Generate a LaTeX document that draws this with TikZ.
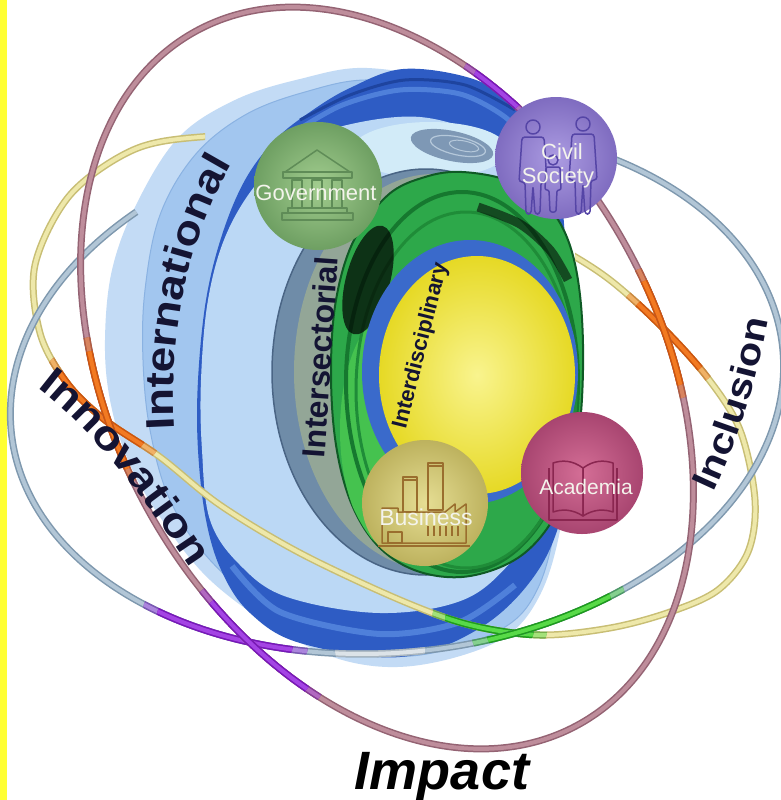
\documentclass[tikz,border=0pt]{standalone}
\usepackage{fontspec}
\setmainfont{Liberation Sans}
\newfontfamily\lblfont{Liberation Sans}[FakeStretch=1.15]
\usetikzlibrary{decorations.text}
\definecolor{strip}{HTML}{FFFF33}
\definecolor{halo}{HTML}{C3DBF5}
\definecolor{band}{HTML}{A2C6EF}
\definecolor{bandedge}{HTML}{8AB2E2}
\definecolor{rimdark}{HTML}{2E5CC4}
\definecolor{rimlight}{HTML}{4F80DA}
\definecolor{rimdeep}{HTML}{1E449F}
\definecolor{innerblue}{HTML}{BBD8F5}
\definecolor{cyanpale}{HTML}{D2EBF8}
\definecolor{swirl}{HTML}{7E98B5}
\definecolor{swirlhi}{HTML}{B5C8DA}
\definecolor{greyband}{HTML}{6F8CA8}
\definecolor{greyband2}{HTML}{93A697}
\definecolor{greyedge}{HTML}{4A6585}
\definecolor{gring}{HTML}{2DA84A}
\definecolor{gedge}{HTML}{0F5A25}
\definecolor{glight}{HTML}{45C24F}
\definecolor{gdark}{HTML}{16782F}
\definecolor{gdark2}{HTML}{1F8C38}
\definecolor{bluering}{HTML}{3A6ACB}
\definecolor{yin}{HTML}{F9F48E}
\definecolor{yout}{HTML}{E6D925}
\definecolor{navy}{HTML}{141433}
\definecolor{mauveD}{HTML}{946373}
\definecolor{mauveL}{HTML}{BE8D9B}
\definecolor{steelD}{HTML}{7E98AE}
\definecolor{steelL}{HTML}{B2C6D6}
\definecolor{ringyD}{HTML}{C8BE74}
\definecolor{ringyL}{HTML}{EEE8AA}
\definecolor{orD}{HTML}{CC5510}
\definecolor{orL}{HTML}{F27A22}
\definecolor{puD}{HTML}{7818B8}
\definecolor{puL}{HTML}{A444E4}
\definecolor{grD}{HTML}{1E9A1E}
\definecolor{grL}{HTML}{58DA48}
\definecolor{whD}{HTML}{A9B6C0}
\definecolor{whL}{HTML}{DCE3E8}
\definecolor{govL}{HTML}{A2CD8F}
\definecolor{govD}{HTML}{6E9F62}
\definecolor{govI}{HTML}{5F8C57}
\definecolor{civL}{HTML}{AC9CE2}
\definecolor{civD}{HTML}{7F6CC0}
\definecolor{civI}{HTML}{5545A6}
\definecolor{acaL}{HTML}{D46E96}
\definecolor{acaD}{HTML}{A84570}
\definecolor{acaI}{HTML}{8A2650}
\definecolor{busL}{HTML}{E6DE94}
\definecolor{busD}{HTML}{BDB25E}
\definecolor{busI}{HTML}{9A6E2E}
\definecolor{sphtext}{HTML}{F4F4EC}
\newcommand\fIntl{\lblfont\bfseries\fontsize{40}{42}\selectfont}
\newcommand\fInno{\lblfont\bfseries\fontsize{41}{43}\selectfont}
\newcommand\fIncl{\lblfont\bfseries\fontsize{36}{38}\selectfont}
\newcommand\MauveRing[1]{\draw[#1,rotate around={29:(387,-378)}] (387,-378) ellipse (273 and 396);}
\newcommand\SteelRing[1]{\begin{scope}[shift={(397,-390)},rotate=6.5]\draw[#1] (128:388 and 262) arc[start angle=128,end angle=420,x radius=388,y radius=262];\end{scope}}
\newcommand\YellowRing[1]{\draw[#1] plot[smooth cycle,tension=0.55] coordinates {(200,-137) (133,-150) (70,-195) (35,-265) (40,-333) (67,-383) (105,-420) (160,-457) (220,-505) (300,-553) (400,-600) (470,-625) (540,-635) (610,-628) (670,-612) (718,-590) (748,-552) (755,-500) (740,-430) (707,-377) (660,-325) (610,-280) (560,-248) (480,-205) (380,-160) (290,-137)};}
\newcommand\GreenShape[1]{#1 plot[smooth cycle,tension=0.6] coordinates {(462,-172) (510,-181) (545,-203) (568,-240) (580,-295) (583,-370) (577,-445) (558,-510) (522,-555) (470,-576) (420,-572) (380,-548) (352,-505) (336,-445) (331,-372) (336,-300) (354,-240) (388,-195) (425,-177)};}
\newcommand\HiZone[5]{\begin{scope}\clip #1 circle (#2);#3{#4,line width=7}#3{#5,line width=4}\end{scope}}
\tikzset{
  spheretext/.style={text=sphtext,font=\fontsize{22}{22}\selectfont,inner sep=0pt},
  icon/.style={draw=#1,line width=1.5,line join=round}
}
\begin{document}
\begin{tikzpicture}[x=1pt,y=1pt]
\useasboundingbox (0,0) rectangle (780,-800);
\fill[white] (0,0) rectangle (780,-800);
\fill[strip] (0,0) rectangle (7,-800);
% outer shell
\fill[halo] plot[smooth cycle,tension=0.6] coordinates {(367,-68) (300,-79) (235,-100) (178,-138) (136,-205) (112,-270) (105,-340) (110,-400) (128,-460) (160,-517) (210,-580) (283,-633) (350,-662) (420,-665) (500,-640) (540,-595) (562,-520) (572,-420) (570,-300) (552,-200) (515,-130) (450,-85)};
\filldraw[fill=band,draw=bandedge,line width=1] plot[smooth cycle,tension=0.6] coordinates {(370,-80) (305,-92) (245,-115) (195,-155) (160,-215) (145,-290) (143,-360) (150,-430) (170,-500) (210,-560) (280,-620) (350,-650) (420,-655) (500,-630) (538,-588) (558,-510) (566,-420) (563,-300) (546,-210) (510,-135) (450,-95)};
% dark rim
\fill[rimdark] plot[smooth cycle,tension=0.6] coordinates {(403,-69) (470,-78) (512,-102) (545,-140) (560,-190) (566,-250) (572,-330) (574,-420) (563,-510) (535,-575) (480,-628) (400,-657) (300,-643) (250,-613) (222,-572) (206,-520) (198,-450) (198,-380) (206,-300) (222,-235) (245,-180) (275,-140) (310,-112) (350,-88)};
\draw[rimlight,line width=5] plot[smooth] coordinates {(285,-138) (340,-106) (400,-90) (460,-94) (505,-117) (535,-150)};
\draw[rimdeep,line width=3] plot[smooth] coordinates {(300,-120) (350,-95) (405,-80) (465,-85) (515,-110)};
\draw[rimlight,line width=6] plot[smooth] coordinates {(232,-566) (280,-612) (380,-634) (460,-622) (515,-585)};
\fill[innerblue] plot[smooth cycle,tension=0.6] coordinates {(420,-117) (487,-137) (530,-170) (553,-230) (563,-320) (566,-420) (553,-505) (513,-560) (463,-600) (380,-613) (287,-597) (240,-565) (210,-520) (202,-450) (201,-380) (208,-300) (226,-235) (258,-182) (300,-145) (347,-125)};
\fill[cyanpale] (430,-150) ellipse (78 and 28);
\fill[swirl,rotate around={-12:(452,-146)}] (452,-146) ellipse (42 and 15);
\draw[swirlhi,line width=1.2,rotate around={-12:(458,-146)}] (458,-146) ellipse (28 and 9);
\draw[swirlhi,line width=1,rotate around={-12:(464,-146)}] (464,-146) ellipse (15 and 5);
% intersectorial cylinder
\filldraw[fill=greyband,draw=greyedge,line width=1.5] (426,-372) ellipse (154 and 203);
\fill[greyband2] (434,-372) ellipse (140 and 198);
\GreenShape{\filldraw[fill=gring,draw=gedge,line width=2]}
\begin{scope}
\GreenShape{\clip}
\fill[glight] (395,-430) ellipse (55 and 120);
\draw[gdark,line width=4] (462,-382) ellipse (116 and 190);
\draw[gdark2,line width=3] (466,-390) ellipse (110 and 178);
\fill[black,opacity=0.7,rotate around={-15:(368,-280)}] (368,-280) ellipse (22 and 56);
\draw[black,opacity=0.55,line width=9] plot[smooth] coordinates {(478,-207) (520,-224) (550,-250) (568,-280)};
\end{scope}
\fill[bluering] (470,-372) ellipse (108 and 132);
\shade[inner color=yin,outer color=yout] (477,-375) ellipse (98 and 119);
\node[rotate=86,font=\fontsize{32}{32}\selectfont\bfseries,text=navy,inner sep=0pt] (inters) at (320,-357) {Intersectorial};
\node[rotate=76,font=\fontsize{22}{22}\selectfont\bfseries,text=navy,inner sep=0pt] (interd) at (421,-346) {Interdisciplinary};
% rings
\begin{scope}
\clip (0,0) -- (205,0) -- (205,-262) -- (575,-270) -- (575,0) -- (780,0) -- (780,-800) -- (0,-800) -- cycle;
\YellowRing{ringyD,line width=7}
\YellowRing{ringyL,line width=4}
\HiZone{(100,-410)}{70}{\YellowRing}{orD!50!ringyD}{orL!50!ringyL}
\HiZone{(100,-410)}{55}{\YellowRing}{orD}{orL}
\HiZone{(670,-335)}{58}{\YellowRing}{orD!50!ringyD}{orL!50!ringyL}
\HiZone{(670,-335)}{45}{\YellowRing}{orD}{orL}
\HiZone{(490,-622)}{58}{\YellowRing}{grD!50!ringyD}{grL!50!ringyL}
\HiZone{(490,-622)}{45}{\YellowRing}{grD}{grL}
\end{scope}
\SteelRing{steelD,line width=7}
\SteelRing{steelL,line width=4}
\HiZone{(225,-630)}{85}{\SteelRing}{puD!50!steelD}{puL!50!steelL}
\HiZone{(225,-630)}{70}{\SteelRing}{puD}{puL}
\HiZone{(380,-648)}{45}{\SteelRing}{whD}{whL}
\HiZone{(548,-615)}{80}{\SteelRing}{grD!50!steelD}{grL!50!steelL}
\HiZone{(548,-615)}{65}{\SteelRing}{grD}{grL}
\MauveRing{mauveD,line width=7}
\MauveRing{mauveL,line width=4}
\HiZone{(102,-412)}{76}{\MauveRing}{orD!50!mauveD}{orL!50!mauveL}
\HiZone{(102,-412)}{62}{\MauveRing}{orD}{orL}
\HiZone{(662,-333)}{68}{\MauveRing}{orD!50!mauveD}{orL!50!mauveL}
\HiZone{(662,-333)}{55}{\MauveRing}{orD}{orL}
\HiZone{(500,-85)}{40}{\MauveRing}{puD!50!mauveD}{puL!50!mauveL}
\HiZone{(500,-85)}{28}{\MauveRing}{puD}{puL}
\HiZone{(255,-650)}{80}{\MauveRing}{puD!50!mauveD}{puL!50!mauveL}
\HiZone{(255,-650)}{65}{\MauveRing}{puD}{puL}
% Government
\shade[inner color=govL,outer color=govD] (318,-186) circle (64);
\begin{scope}[icon=govI]
\draw (285,-172) -- (317,-150) -- (350,-172) -- cycle;
\draw (283,-172) rectangle (352,-178);
\foreach \cx in {297,317,337} \draw (\cx-5,-180) rectangle (\cx+5,-208);
\draw (288,-208) rectangle (347,-213);
\draw (282,-213) rectangle (353,-220);
\end{scope}
\node[spheretext] (gov) at (316,-193) {Government};
% Civil Society
\shade[inner color=civL,outer color=civD] (556,-158) circle (61);
\begin{scope}[icon=civI]
\draw (533,-127) circle (7);
\draw[rounded corners=3] (522,-137) -- (544,-137) -- (547,-182) -- (541,-182) -- (540,-214) -- (535,-214) -- (533,-186) -- (531,-214) -- (526,-214) -- (525,-182) -- (519,-182) -- cycle;
\draw (583,-124) circle (7);
\draw[rounded corners=3] (572,-134) -- (594,-134) -- (597,-180) -- (591,-180) -- (590,-214) -- (585,-214) -- (583,-184) -- (581,-214) -- (576,-214) -- (575,-180) -- (569,-180) -- cycle;
\draw (553,-160) circle (5);
\draw[rounded corners=2] (546,-167) -- (560,-167) -- (561,-190) -- (557,-190) -- (556,-212) -- (550,-212) -- (549,-190) -- (545,-190) -- cycle;
\end{scope}
\node[spheretext] (civ1) at (562,-152) {Civil};
\node[spheretext] (civ2) at (558,-178) {Society};
% Academia
\shade[inner color=acaL,outer color=acaD] (582,-473) circle (61);
\begin{scope}[icon=acaI]
\draw (583,-468) .. controls (572,-460) and (562,-460) .. (553,-463) -- (553,-512) .. controls (562,-509) and (572,-509) .. (583,-516) -- cycle;
\draw (583,-468) .. controls (594,-460) and (604,-460) .. (613,-463) -- (613,-512) .. controls (604,-509) and (594,-509) .. (583,-516) -- cycle;
\draw (549,-468) -- (549,-520) -- (617,-520) -- (617,-468);
\end{scope}
\node[spheretext,font=\fontsize{21}{21}\selectfont] (aca) at (586,-487) {Academia};
% Business
\shade[inner color=busL,outer color=busD] (425,-503) circle (63);
\begin{scope}[icon=busI]
\draw (403,-477) rectangle (417,-512);
\draw (402,-480) -- (418,-480);
\draw (428,-463) rectangle (443,-510);
\draw (427,-466) -- (444,-466);
\draw (382,-543) -- (382,-508) -- (398,-508) -- (398,-512) -- (445,-512) -- (455,-504) -- (455,-512) -- (466,-504) -- (466,-543) -- cycle;
\draw (378,-546) -- (470,-546);
\draw (388,-532) rectangle (402,-543);
\foreach \wx in {428,434,440,446,452,458} \draw (\wx,-526) -- (\wx,-536);
\end{scope}
\node[spheretext,font=\fontsize{23}{23}\selectfont] (bus) at (426,-517) {Business};
% big labels
\path[decorate,decoration={text along path,text={|\fIntl|International},text color=navy,text align=center}] (176,-452) .. controls (166,-340) and (186,-230) .. (244,-145);
\path[decorate,decoration={text along path,text={|\fInno|Innovation},text color=navy,text align=center}] (24,-378) .. controls (85,-420) and (140,-490) .. (200,-582);
\path[decorate,decoration={text along path,text={|\fIncl|Inclusion},text color=navy,text align=center}] (703,-514) .. controls (735,-452) and (759,-382) .. (772,-296);
\node[font=\fontsize{54}{54}\selectfont\bfseries\itshape,text=black,anchor=base,inner sep=0pt] (impact) at (442,-789) {Impact};
\end{tikzpicture}
\end{document}
